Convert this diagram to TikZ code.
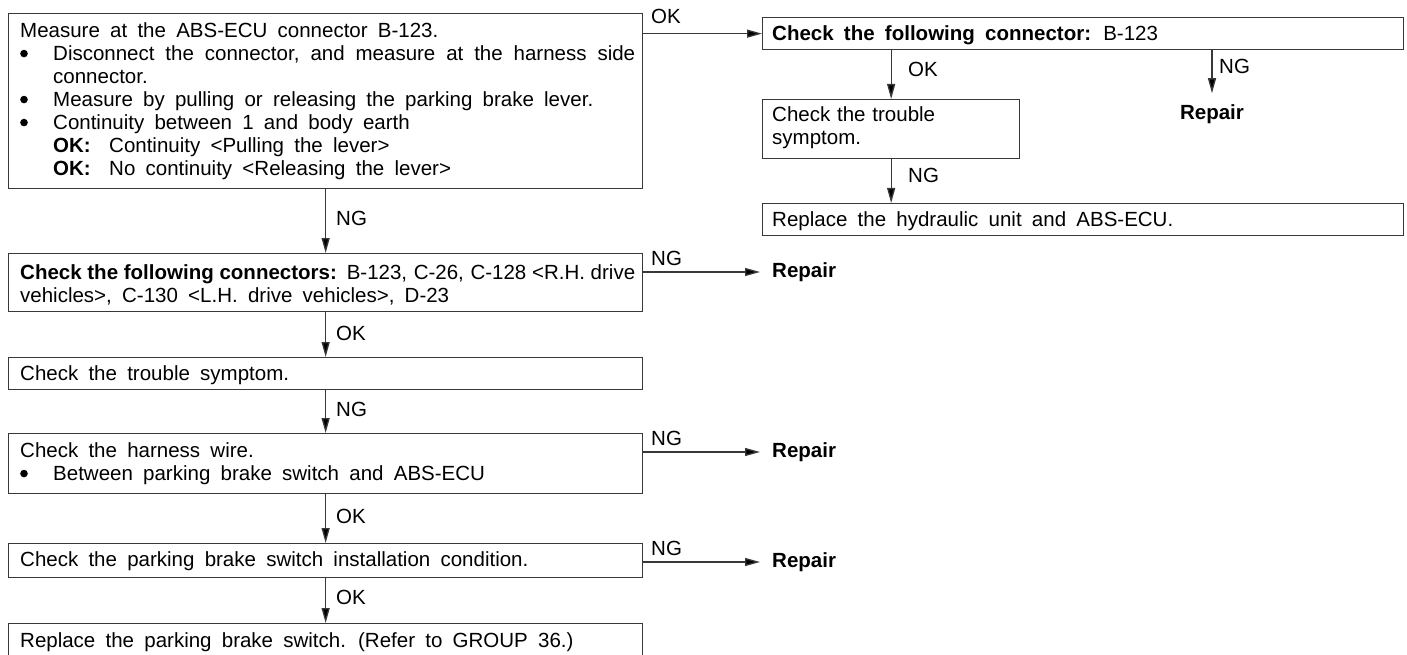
\documentclass[tikz,border=0pt]{standalone}
\usepackage{fontspec}
\setmainfont{Liberation Sans}
\usetikzlibrary{arrows.meta}

% text face used in every box and label
\newcommand\flowfont{\fontsize{20.5}{23}\selectfont\parindent=0pt
  \spaceskip=.5em plus .4em minus .28em\relax}
% round bullet dot
\newcommand\dotmark{\tikz[x=1pt,y=1pt,baseline=0pt]\fill[black] (4,6.5) circle (3.8);}
% bullet item with hanging indent
\newcommand\bul{\par\hangindent=33pt\hangafter=1\noindent
  \makebox[33pt][l]{\dotmark}}
% "OK:" result line under a bullet
\newcommand\okline{\par\noindent\hspace*{33pt}\makebox[56pt][l]{\textbf{OK:}}}

\begin{document}
\begin{tikzpicture}[x=1pt,y=-1pt,
  box/.style={draw=black!78, line width=1.3pt, inner sep=0pt, anchor=north west},
  txt/.style={anchor=north west, inner sep=0pt, align=justify, font=\flowfont},
  lab/.style={anchor=west, inner sep=0pt, font=\flowfont},
  hlab/.style={anchor=base west, inner sep=0pt, font=\flowfont},
  rep/.style={inner sep=0pt, font=\flowfont\bfseries},
  arr/.style={draw=black!78, line width=1.3pt,
    -{Triangle[length=15pt,width=8pt,fill=black]}}]

\useasboundingbox (0,0) rectangle (1407,655);

% ---- left column boxes ----
\node[box, minimum width=634pt, minimum height=175pt] (b1) at (8,13) {};
\node[txt, text width=615pt] (t1) at (20,22) {%
  Measure at the ABS-ECU connector B-123.
  \bul Disconnect the connector, and measure at the harness side\linebreak connector.
  \bul Measure by pulling or releasing the parking brake lever.
  \bul Continuity between 1 and body earth
  \okline Continuity <Pulling the lever>
  \okline No continuity <Releasing the lever>};

\node[box, minimum width=634pt, minimum height=58pt] (b5) at (8,253) {};
\node[txt, text width=615pt] (t5) at (20,264) {%
  \textbf{Check the following connectors:} B-123, C-26, C-128 <R.H. drive\linebreak
  vehicles>, C-130 <L.H. drive vehicles>, D-23};

\node[box, minimum width=634pt, minimum height=32pt] (b6) at (8,357) {};
\node[txt, text width=615pt] (t6) at (20,365) {Check the trouble symptom.};

\node[box, minimum width=634pt, minimum height=60pt] (b7) at (8,433) {};
\node[txt, text width=615pt] (t7) at (20,442) {%
  Check the harness wire.
  \bul Between parking brake switch and ABS-ECU};

\node[box, minimum width=634pt, minimum height=34pt] (b8) at (8,543) {};
\node[txt, text width=615pt] (t8) at (20,551) {Check the parking brake switch installation condition.};

\node[box, minimum width=634pt, minimum height=45pt] (b9) at (8,623) {};
\node[txt, text width=615pt] (t9) at (20,632) {Replace the parking brake switch. (Refer to GROUP 36.)};

% ---- right column boxes ----
\node[box, minimum width=641pt, minimum height=32pt] (b2) at (762,17) {};
\node[txt, text width=620pt] (t2) at (772,25) {\textbf{Check the following connector:} B-123};

\node[box, minimum width=257pt, minimum height=59pt] (b3) at (762,99) {};
\node[txt, text width=240pt, align=left] (t3) at (772,106) {Check the trouble\\symptom.};

\node[box, minimum width=641pt, minimum height=32pt] (b4) at (762,203) {};
\node[txt, text width=620pt] (t4) at (772,211) {Replace the hydraulic unit and ABS-ECU.};

% ---- repair ends ----
\node[rep] (r1) at (1212,114) {Repair};
\node[rep, anchor=west] (r2) at (772,272) {Repair};
\node[rep, anchor=west] (r3) at (772,452) {Repair};
\node[rep, anchor=west] (r4) at (772,562) {Repair};

% ---- connectors ----
\draw[arr] (b1.east |- b2.west) -- (b2.west);
\node[hlab] (l0) at (651,24) {OK};

\draw[arr] (b3.north |- b2.south) -- (b3.north);
\node[lab] (l1) at (908,69) {OK};
\draw[arr] (r1.north |- b2.south) -- ([yshift=11pt]r1.north);
\node[lab] (l2) at (1219,66) {NG};
\draw[arr] (b3.south) -- (b3.south |- b4.north);
\node[lab] (l3) at (908,175) {NG};

\draw[arr] (b1.south) -- (b5.north);
\node[lab] (l4) at (336,218) {NG};
\draw[arr] (b5.east |- r2.west) -- ([xshift=-12pt]r2.west);
\node[hlab] (l5) at (651,265) {NG};

\draw[arr] (b5.south) -- (b6.north);
\node[lab] (l6) at (336,333) {OK};

\draw[arr] (b6.south) -- (b7.north);
\node[lab] (l7) at (336,409) {NG};
\draw[arr] (b7.east |- r3.west) -- ([xshift=-12pt]r3.west);
\node[hlab] (l8) at (651,445) {NG};

\draw[arr] (b7.south) -- (b8.north);
\node[lab] (l9) at (336,516) {OK};
\draw[arr] (b8.east |- r4.west) -- ([xshift=-12pt]r4.west);
\node[hlab] (l10) at (651,555) {NG};

\draw[arr] (b8.south) -- (b9.north);
\node[lab] (l11) at (336,597) {OK};
\end{tikzpicture}
\end{document}
